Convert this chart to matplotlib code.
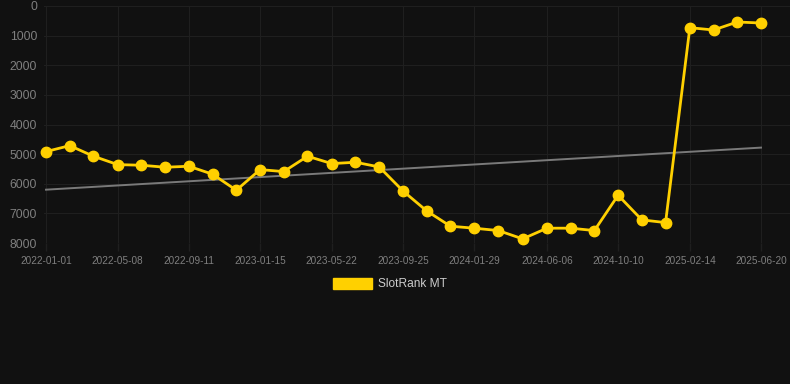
import matplotlib
matplotlib.use("Agg")
import matplotlib.pyplot as plt
from matplotlib.patches import Patch
import pandas as pd

# data
dates = [
    "2022-01-01", "2022-02-12", "2022-03-26", "2022-05-08", "2022-06-19",
    "2022-07-31", "2022-09-11", "2022-10-23", "2022-12-04", "2023-01-15",
    "2023-02-26", "2023-04-09", "2023-05-22", "2023-07-03", "2023-08-14",
    "2023-09-25", "2023-11-06", "2023-12-18", "2024-01-29", "2024-03-12",
    "2024-04-24", "2024-06-06", "2024-07-18", "2024-08-29", "2024-10-10",
    "2024-11-21", "2025-01-02", "2025-02-14", "2025-03-28", "2025-05-09",
    "2025-06-20",
]
rank = [
    4915, 4713, 5071, 5354, 5375, 5443, 5409, 5679, 6219, 5522,
    5590, 5071, 5320, 5274, 5432, 6242, 6916, 7433, 7500, 7580,
    7861, 7500, 7500, 7580, 6387, 7220, 7311, 732, 810, 540,
    574,
]
trend_dates = ["2022-01-01", "2025-06-20"]
trend_vals = [6200, 4780]
tick_labels = [
    "2022-01-01", "2022-05-08", "2022-09-11", "2023-01-15", "2023-05-22",
    "2023-09-25", "2024-01-29", "2024-06-06", "2024-10-10", "2025-02-14",
    "2025-06-20",
]

BG = "#111111"
GRID = "#1f1f1f"
TXT = "#7f7f7f"
GOLD = "#ffd000"

plt.rcParams["font.family"] = ["Liberation Sans", "DejaVu Sans"]

x = pd.to_datetime(dates)
fig = plt.figure(figsize=(7.9, 3.84), dpi=100, facecolor=BG)
ax = fig.add_axes([44 / 790, 1 - 243 / 384, 746 / 790, 237 / 384])
ax.set_facecolor(BG)

ax.plot(pd.to_datetime(trend_dates), trend_vals, color="#7a7a7a", lw=1.4, zorder=2)
ax.plot(x, rank, color=GOLD, lw=2.0, marker="o", ms=7.5, zorder=3, clip_on=False)

start = pd.Timestamp("2022-01-01")
px_day = 715 / 1266
ax.set_xlim(start - pd.Timedelta(days=2 / px_day), start + pd.Timedelta(days=744 / px_day))
ax.set_ylim(8000, 0)

ax.set_xticks(pd.to_datetime(tick_labels))
ax.set_xticklabels(tick_labels)
ax.set_yticks(range(0, 8001, 1000))
ax.tick_params(axis="x", colors=GRID, labelcolor=TXT, labelsize=7.2, length=6, width=1, pad=3)
ax.tick_params(axis="y", length=0, labelcolor=TXT, labelsize=8.8, pad=5)
ax.grid(True, color=GRID, lw=0.8)
for s in ax.spines.values():
    s.set_visible(False)

fig.legend(handles=[Patch(facecolor=GOLD, edgecolor=GOLD)], labels=["SlotRank MT"],
           loc="center", bbox_to_anchor=(390 / 790, 1 - 284 / 384), frameon=False,
           fontsize=8.6, labelcolor="#cccccc", handlelength=3.3, handleheight=1.1,
           handletextpad=0.5)

fig.savefig("out.png", dpi=100, facecolor=BG)
